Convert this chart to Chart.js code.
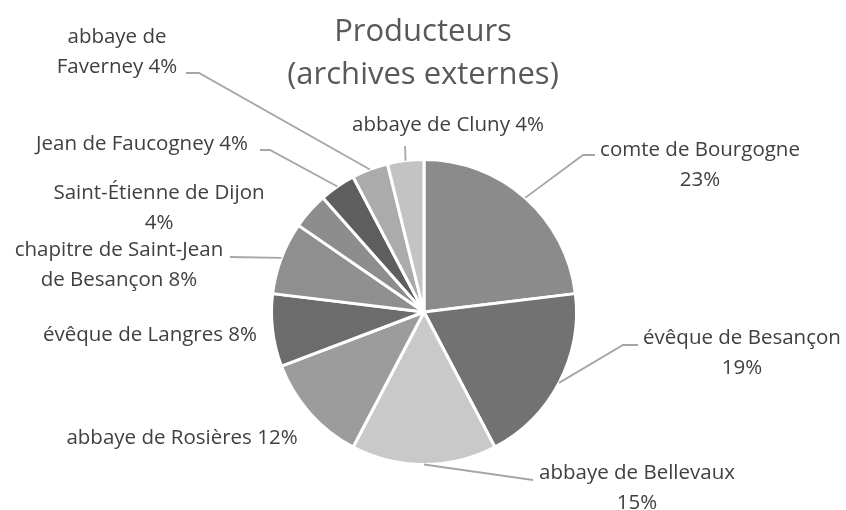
<!DOCTYPE html>
<html>
<head>
<meta charset="utf-8">
<script src="https://cdn.jsdelivr.net/npm/chart.js@4.4.0/dist/chart.umd.min.js"></script>
<style>
    html, body { margin: 0; padding: 0; background: #ffffff; }
    #wrap { width: 846px; height: 510px; }
</style>
</head>
<body>
<div id="wrap"><canvas id="pieChart" width="846" height="510"></canvas></div>
<script>
    // Données
    const categories = ['comte de Bourgogne', 'évêque de Besançon', 'abbaye de Bellevaux', 'abbaye de Rosières',
        'évêque de Langres', 'chapitre de Saint-Jean de Besançon', 'Saint-Étienne de Dijon',
        'Jean de Faucogney', 'abbaye de Faverney', 'abbaye de Cluny'];
    const counts = [6, 5, 4, 3, 2, 2, 1, 1, 1, 1];
    const sliceColors = ['#8b8b8b', '#727272', '#c9c9c9', '#9c9c9c', '#6c6c6c',
        '#8f8f8f', '#8d8d8d', '#5e5e5e', '#ababab', '#c3c3c3'];

    // Texte des étiquettes (retours à la ligne comme sur l'image)
    const labelLines = [
        ['comte de Bourgogne', '23%'],
        ['évêque de Besançon', '19%'],
        ['abbaye de Bellevaux', '15%'],
        ['abbaye de Rosières 12%'],
        ['évêque de Langres 8%'],
        ['chapitre de Saint-Jean', 'de Besançon 8%'],
        ['Saint-Étienne de Dijon', '4%'],
        ['Jean de Faucogney 4%'],
        ['abbaye de', 'Faverney 4%'],
        ['abbaye de Cluny 4%']
    ];
    // Mise en page des étiquettes : centre du texte, coude et fin du trait de rappel
    const labelLayout = [
        { x: 700, y: 150, elbow: [583, 155], end: [595, 155] },
        { x: 742, y: 338, elbow: [623, 345], end: [638, 345] },
        { x: 637, y: 473, elbow: null, end: [533, 480] },
        { x: 182, y: 438, elbow: null, end: null },
        { x: 150, y: 335, elbow: null, end: null },
        { x: 119, y: 250, elbow: null, end: [230, 257] },
        { x: 159, y: 193, elbow: null, end: null },
        { x: 142, y: 144, elbow: [270, 150], end: [260, 150] },
        { x: 117, y: 37, elbow: [199, 73], end: [186, 73] },
        { x: 448, y: 125, elbow: null, end: [405, 146] }
    ];
    const titleLines = ['Producteurs', '(archives externes)'];
    const FONT = '"Open Sans", "Noto Sans", sans-serif';

    // Plugin : titre + étiquettes avec traits de rappel
    const pieLabels = {
        id: 'pieLabels',
        afterDraw(chart) {
            const ctx = chart.ctx;
            const arcs = chart.getDatasetMeta(0).data;
            ctx.save();
            ctx.textAlign = 'center';
            ctx.textBaseline = 'middle';

            // titre
            ctx.fillStyle = '#595959';
            ctx.font = `31px ${FONT}`;
            ctx.fillText(titleLines[0], 423, 32);
            ctx.fillText(titleLines[1], 423, 75);

            arcs.forEach((arc, i) => {
                const lay = labelLayout[i];
                const p = arc.getProps(['x', 'y', 'startAngle', 'endAngle', 'outerRadius'], true);
                const mid = (p.startAngle + p.endAngle) / 2;
                if (lay.end) {
                    ctx.strokeStyle = '#a6a6a6';
                    ctx.lineWidth = 1.8;
                    ctx.beginPath();
                    ctx.moveTo(p.x + Math.cos(mid) * p.outerRadius, p.y + Math.sin(mid) * p.outerRadius);
                    if (lay.elbow) ctx.lineTo(lay.elbow[0], lay.elbow[1]);
                    ctx.lineTo(lay.end[0], lay.end[1]);
                    ctx.stroke();
                }
                ctx.fillStyle = '#404040';
                ctx.font = `20.5px ${FONT}`;
                labelLines[i].forEach((t, k) => ctx.fillText(t, lay.x, lay.y + k * 30));
            });
            ctx.restore();
        }
    };

    const ctxPie = document.getElementById('pieChart').getContext('2d');
    const pieChart = new Chart(ctxPie, {
        type: 'pie',
        data: {
            labels: categories,
            datasets: [{
                data: counts,
                backgroundColor: sliceColors,
                borderColor: '#ffffff',
                borderWidth: 3
            }]
        },
        options: {
            responsive: false,
            animation: false,
            layout: { padding: { left: 270, right: 268, top: 158, bottom: 44 } },
            plugins: {
                legend: { display: false },
                tooltip: { enabled: false },
                title: { display: false }
            }
        },
        plugins: [pieLabels]
    });
</script>
</body>
</html>
